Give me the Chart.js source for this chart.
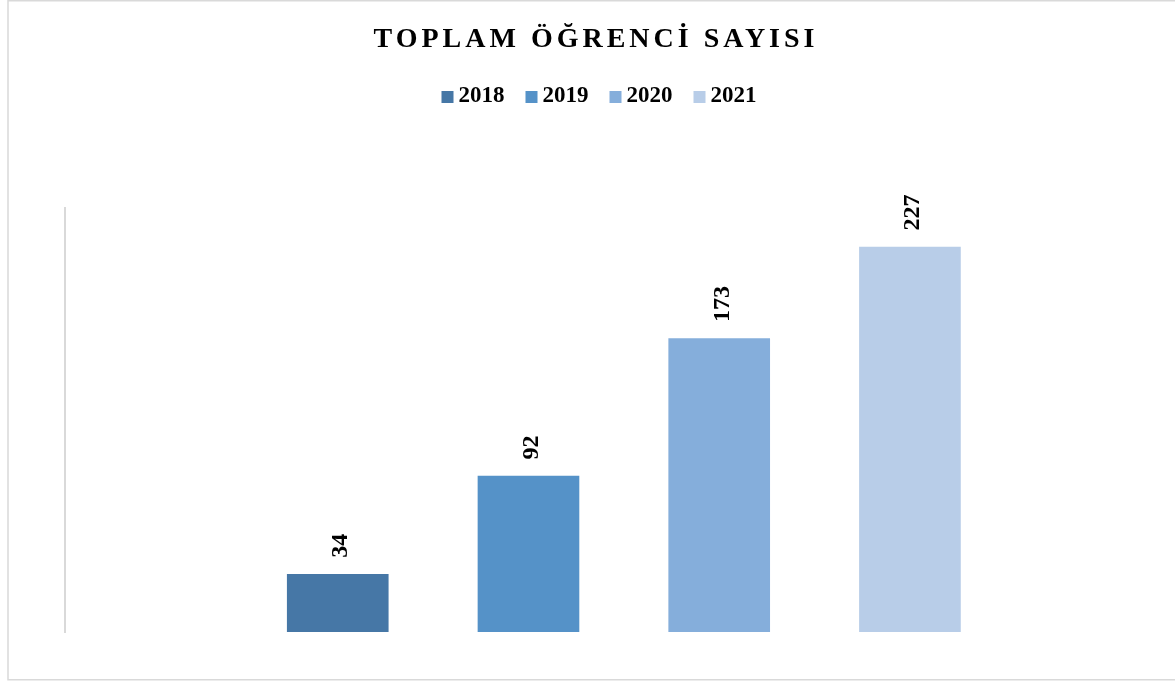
<!DOCTYPE html>
<html>
<head>
<meta charset="utf-8">
<script src="https://cdn.jsdelivr.net/npm/chart.js@4.4.1/dist/chart.umd.min.js"></script>
<style>
    html, body { margin: 0; background: #fff; }
    #wrap { width: 1175px; height: 682px; position: relative; }
</style>
</head>
<body>
<div id="wrap"><canvas id="studentChart"></canvas></div>
<script>
const years = ["2018", "2019", "2020", "2021"];
const students = [34, 92, 173, 227];
const barColors = ["#4677A6", "#5592C8", "#85AEDB", "#B8CDE8"];
const chartTitle = "TOPLAM ÖĞRENCİ SAYISI";

const serif = "'Liberation Serif', 'Times New Roman', serif";

// frame, title and legend drawn on the canvas
const decorPlugin = {
    id: "decor",
    beforeDraw(chart) {
        const ctx = chart.ctx;
        ctx.save();
        ctx.strokeStyle = "#d9d9d9";
        ctx.lineWidth = 1.5;
        ctx.strokeRect(8, 0.75, 1200, 679);
        ctx.restore();
    },
    afterDraw(chart) {
        const ctx = chart.ctx;
        ctx.save();
        ctx.fillStyle = "#000";
        ctx.font = "bold 28px " + serif;
        ctx.letterSpacing = "4px";
        ctx.textAlign = "left";
        ctx.textBaseline = "alphabetic";
        const w = ctx.measureText(chartTitle).width - 4;
        ctx.fillText(chartTitle, 594 - w / 2, 47);

        ctx.letterSpacing = "0px";
        ctx.font = "bold 23px " + serif;
        const items = chart.data.datasets.map(ds => ({
            label: ds.label,
            color: ds.backgroundColor,
            w: 12 + 5 + ctx.measureText(ds.label).width
        }));
        const gap = 21;
        const total = items.reduce((s, it) => s + it.w, 0) + gap * (items.length - 1);
        let x = 599 - total / 2;
        items.forEach(it => {
            ctx.fillStyle = it.color;
            ctx.fillRect(x, 91, 12, 12);
            ctx.fillStyle = "#000";
            ctx.fillText(it.label, x + 17, 102);
            x += it.w + gap;
        });
        ctx.restore();
    }
};

// rotated value labels above each bar
const valueLabels = {
    id: "valueLabels",
    afterDatasetsDraw(chart) {
        const ctx = chart.ctx;
        ctx.save();
        ctx.fillStyle = "#000";
        ctx.font = "bold 24px " + serif;
        ctx.textAlign = "left";
        ctx.textBaseline = "alphabetic";
        chart.data.datasets.forEach((ds, i) => {
            const bar = chart.getDatasetMeta(i).data[0];
            if (!bar) return;
            ctx.save();
            ctx.translate(bar.x + 9.5, bar.y - 16.5);
            ctx.rotate(-Math.PI / 2);
            ctx.fillText(String(ds.data[0].y), 0, 0);
            ctx.restore();
        });
        ctx.restore();
    }
};

const datasets = years.map((year, i) => ({
    label: year,
    data: [{ x: i + 1, y: students[i] }],
    backgroundColor: barColors[i],
    barThickness: 101,
    grouped: false
}));

new Chart(document.getElementById("studentChart"), {
    type: "bar",
    data: { datasets: datasets },
    options: {
        responsive: true,
        maintainAspectRatio: false,
        animation: false,
        layout: { padding: { top: 208, left: 57, right: 40, bottom: 50 } },
        plugins: {
            legend: { display: false },
            title: { display: false },
            tooltip: { enabled: false }
        },
        scales: {
            x: {
                type: "linear",
                display: false,
                offset: false,
                min: -0.43,
                max: 5.18
            },
            y: {
                min: 0,
                max: 250,
                ticks: { display: false },
                grid: { display: false },
                border: { display: true, color: "#d9d9d9", width: 2 }
            }
        }
    },
    plugins: [decorPlugin, valueLabels]
});
</script>
</body>
</html>
